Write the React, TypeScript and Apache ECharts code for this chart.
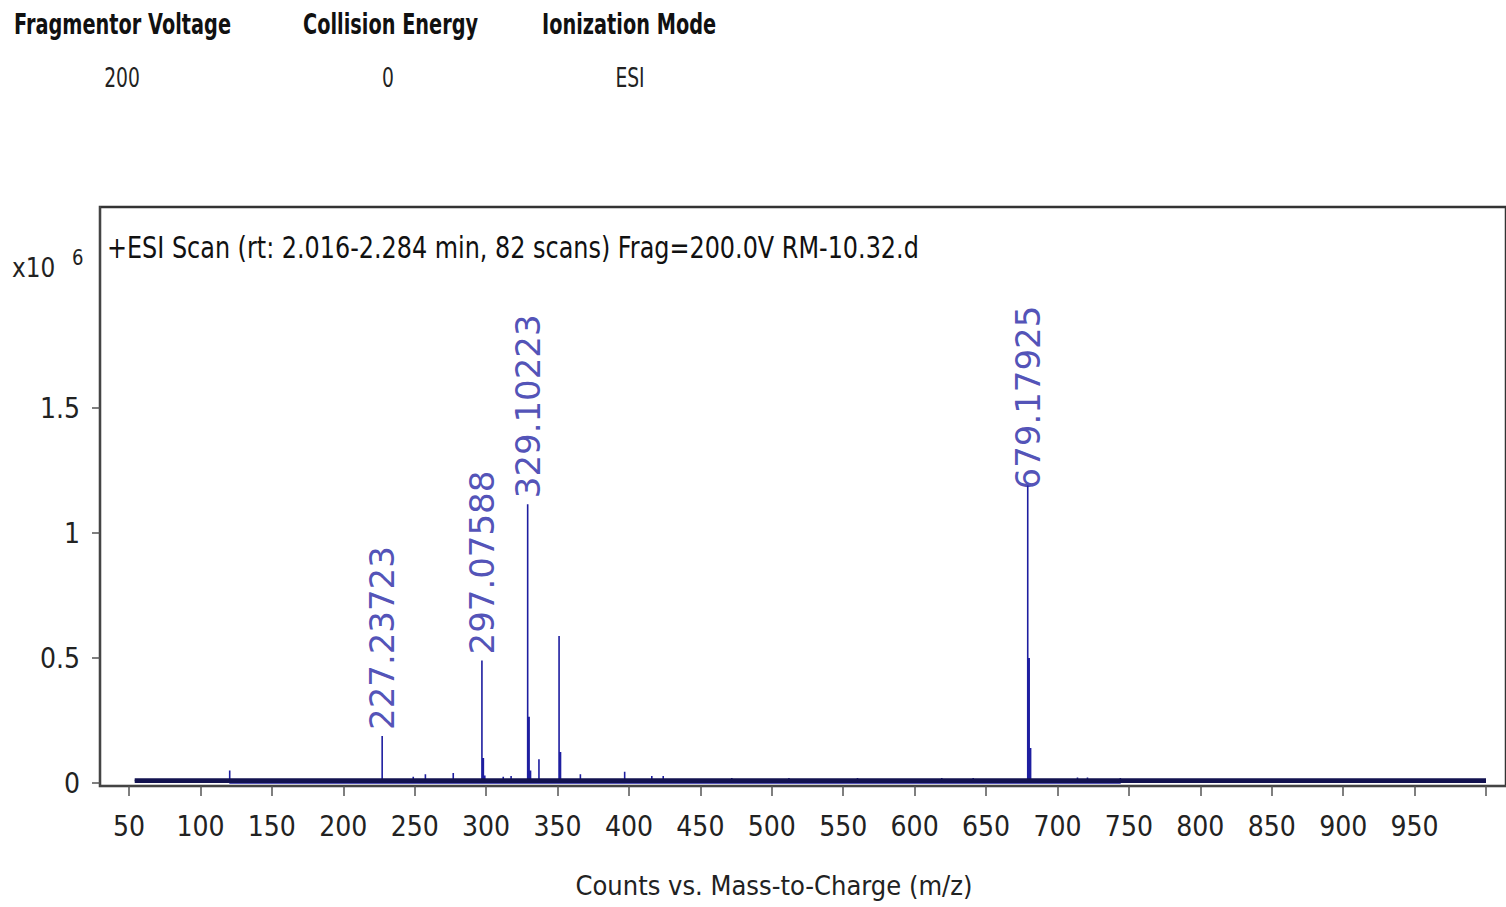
import React, { useEffect, useRef } from "react";
import * as echarts from "echarts";

// m/z, intensity (x10^6)
const majorPeaks: [number, number][] = [
  [227.23723, 0.188],
  [297.07588, 0.49],
  [298.08, 0.1],
  [299.08, 0.03],
  [329.10223, 1.115],
  [330.1, 0.265],
  [331.1, 0.05],
  [337.0, 0.095],
  [351.08, 0.588],
  [352.09, 0.124],
  [679.17925, 1.19],
  [680.18, 0.5],
  [681.18, 0.14],
];

const minorPeaks: [number, number][] = [
  [120.5, 0.05],
  [249, 0.025],
  [257.5, 0.035],
  [277, 0.04],
  [312, 0.025],
  [317.5, 0.028],
  [366, 0.035],
  [397, 0.045],
  [416, 0.028],
  [424, 0.028],
  [472, 0.02],
  [512, 0.02],
  [560, 0.02],
  [619, 0.02],
  [641, 0.02],
  [714, 0.022],
  [721, 0.022],
  [744, 0.02],
];

const labeledPeaks: [number, number, string][] = [
  [227.23723, 0.188, "227.23723"],
  [297.07588, 0.49, "297.07588"],
  [329.10223, 1.115, "329.10223"],
  [679.17925, 1.19, "679.17925"],
];

const noiseFloor: [number, number][] = [
  [54, 0.013],
  [1000, 0.013],
];

const xTickValues = [50, 100, 150, 200, 250, 300, 350, 400, 450, 500, 550, 600, 650, 700, 750, 800, 850, 900, 950, 1000];
const xLabelValues = [50, 100, 150, 200, 250, 300, 350, 400, 450, 500, 550, 600, 650, 700, 750, 800, 850, 900, 950];
const yTickValues = [0, 0.5, 1, 1.5];

const headerNames = ["Fragmentor Voltage", "Collision Energy", "Ionization Mode"];
const headerValues = ["200", "0", "ESI"];

const FONT = "'DejaVu Sans', Verdana, sans-serif";
const AXIS_FONT = "'DejaVu Sans Condensed', sans-serif";
const LABEL_FONT = "'DejaVu Sans', Verdana, sans-serif";

export default function App() {
  const ref = useRef<HTMLDivElement>(null);
  useEffect(() => {
    document.body.style.margin = "0";
    if (!ref.current) return;
    const chart = echarts.init(ref.current, undefined, { renderer: "svg" });

    const sticks: [number, number][] = [];
    const allPeaks = [...minorPeaks, ...majorPeaks].sort((a, b) => a[0] - b[0]);
    allPeaks.forEach(([mz, h]) => {
      sticks.push([mz, 0], [mz, h], [mz, 0]);
    });

    const headerX = [14, 303, 542];
    const valueX = [122, 388, 630];

    chart.setOption({
      animation: false,
      grid: {
        left: 100,
        top: 207,
        right: -3,
        bottom: 121,
        show: true,
        borderColor: "#333",
        borderWidth: 2.5,
        backgroundColor: "#fff",
      },
      xAxis: {
        type: "value",
        min: 29.7,
        max: 1014,
        axisLine: { show: true, onZero: false, lineStyle: { color: "#444", width: 2 } },
        axisTick: {
          show: true,
          customValues: xTickValues,
          length: 10,
          lineStyle: { color: "#555", width: 1.5 },
        },
        axisLabel: {
          customValues: xLabelValues,
          fontFamily: AXIS_FONT,
          fontSize: 28,
          color: "#222",
          margin: 26,
        },
        splitLine: { show: false },
        name: "Counts vs. Mass-to-Charge (m/z)",
        nameLocation: "middle",
        nameGap: 86,
        nameTextStyle: { fontFamily: AXIS_FONT, fontSize: 27, color: "#222", padding: [0, 58, 0, 0] },
      },
      yAxis: {
        type: "value",
        min: -0.012,
        max: 2.304,
        axisLine: { show: true, onZero: false, lineStyle: { color: "#444", width: 2 } },
        axisTick: {
          show: true,
          customValues: yTickValues,
          length: 8,
          lineStyle: { color: "#555", width: 1.5 },
        },
        axisLabel: {
          customValues: yTickValues,
          fontFamily: AXIS_FONT,
          fontSize: 28,
          color: "#222",
          margin: 20,
        },
        splitLine: { show: false },
      },
      graphic: [
        ...headerNames.map((t, i) => ({
          type: "text",
          x: headerX[i],
          y: 25,
          scaleX: 0.69,
          style: { text: t, font: `bold 28px ${FONT}`, fill: "#111", verticalAlign: "middle" },
        })),
        ...headerValues.map((t, i) => ({
          type: "text",
          x: valueX[i],
          y: 78,
          scaleX: 0.72,
          style: { text: t, font: `26px ${FONT}`, fill: "#222", align: "center", verticalAlign: "middle" },
        })),
        {
          type: "text",
          x: 107,
          y: 247,
          z: 10,
          scaleX: 0.797,
          style: {
            text: "+ESI Scan (rt: 2.016-2.284 min, 82 scans) Frag=200.0V RM-10.32.d",
            font: `30px ${FONT}`,
            fill: "#111",
            verticalAlign: "middle",
          },
        },
        {
          type: "text",
          x: 12,
          y: 268,
          scaleX: 0.86,
          style: { text: "x10", font: `27px ${FONT}`, fill: "#222", verticalAlign: "middle" },
        },
        {
          type: "text",
          x: 72,
          y: 258,
          scaleX: 0.86,
          style: { text: "6", font: `21px ${FONT}`, fill: "#222", verticalAlign: "middle" },
        },
      ],
      series: [
        {
          type: "line",
          data: noiseFloor,
          symbol: "none",
          lineStyle: { color: "#12124f", width: 3 },
          areaStyle: { color: "#12124f", opacity: 1 },
          z: 3,
        },
        {
          type: "line",
          data: sticks,
          symbol: "none",
          lineStyle: { color: "#1e1ea0", width: 1.6 },
          z: 2,
        },
        {
          type: "scatter",
          data: labeledPeaks.map(([mz, h, t]) => ({
            value: [mz, h],
            name: t,
            label: { distance: mz > 600 ? -4 : 6 },
          })),
          symbolSize: 0,
          z: 5,
          label: {
            show: true,
            position: "top",
            rotate: 90,
            align: "left",
            verticalAlign: "middle",
            formatter: (p: any) => p.name,
            fontFamily: LABEL_FONT,
            fontSize: 34,
            color: "#2525a5",
          },
        },
      ],
    });
    return () => chart.dispose();
  }, []);
  return <div ref={ref} style={{ width: 1506, height: 907 }} />;
}
